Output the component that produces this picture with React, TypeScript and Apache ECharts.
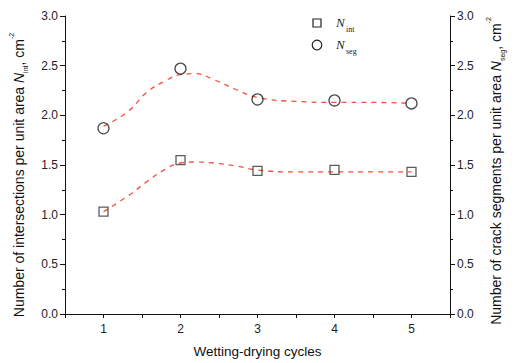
import React, { useEffect, useRef } from "react";
import * as echarts from "echarts";

const cycles = [1, 2, 3, 4, 5];
const nInt = [1.03, 1.55, 1.44, 1.45, 1.43];
const nSeg = [1.87, 2.47, 2.16, 2.15, 2.12];
const fitX = [1, 1.32, 1.56, 1.81, 2, 2.18, 2.43, 2.72, 3, 3.5, 4, 4.5, 5];
const fitInt = [1.03, 1.19, 1.33, 1.46, 1.52, 1.53, 1.52, 1.49, 1.45, 1.43, 1.43, 1.43, 1.43];
const fitSeg = [1.89, 2.04, 2.23, 2.35, 2.41, 2.42, 2.36, 2.26, 2.18, 2.14, 2.13, 2.13, 2.12];

const FONT = "Liberation Sans, Arial, sans-serif";
const SERIF = "Liberation Serif, Times New Roman, serif";

export default function App() {
  const ref = useRef<HTMLDivElement>(null);
  useEffect(() => {
    if (!ref.current) return;
    const chart = echarts.init(ref.current, undefined, { renderer: "svg" });
    const nameRich = {
      i: { fontFamily: FONT, fontStyle: "italic", fontSize: 14, color: "#111", lineHeight: 17 },
      sub: { fontFamily: FONT, fontSize: 7, color: "#111", verticalAlign: "bottom", lineHeight: 12 },
      sup: { fontFamily: FONT, fontSize: 7, color: "#111", verticalAlign: "top", lineHeight: 21 },
    };
    const axisCommon = {
      type: "value",
      min: 0,
      max: 3,
      interval: 0.5,
      axisLine: { show: true, lineStyle: { color: "#111", width: 1 } },
      axisTick: { show: true, inside: false, length: 5, lineStyle: { color: "#111" } },
      minorTick: { show: true, splitNumber: 2, length: 3, lineStyle: { color: "#111" } },
      splitLine: { show: false },
      axisLabel: { color: "#222", fontSize: 12, fontFamily: FONT, margin: 7, formatter: (v: number) => v.toFixed(1) },
      nameLocation: "middle",
      nameRotate: 90,
    };
    const fitStyle = { color: "#f5503a", width: 1.3, type: [5, 5] as any };
    chart.setOption({
      animation: false,
      backgroundColor: "#fff",
      grid: { left: 61, right: 49, top: 16, bottom: 47 },
      xAxis: {
        type: "value",
        min: 0.5,
        max: 5.5,
        interval: 0.5,
        axisLine: { show: true, lineStyle: { color: "#111" } },
        axisTick: { show: true, length: 4, lineStyle: { color: "#111" } },
        splitLine: { show: false },
        axisLabel: {
          color: "#222",
          fontSize: 12,
          fontFamily: FONT,
          margin: 9,
          formatter: (v: number) => (Math.abs(v - Math.round(v)) < 1e-6 && v >= 1 && v <= 5 ? String(Math.round(v)) : ""),
        },
        name: "Wetting-drying cycles",
        nameLocation: "middle",
        nameGap: 30,
        nameTextStyle: { fontFamily: FONT, fontSize: 13.5, color: "#111" },
      },
      yAxis: [
        {
          ...axisCommon,
          position: "left",
          name: "Number of intersections per unit area {i|N}{sub|int}, cm{sup|-2}",
          nameGap: 36,
          nameTextStyle: { fontFamily: FONT, fontSize: 14, color: "#111", rich: nameRich, padding: [0, 20, 0, 0] },
        },
        {
          ...axisCommon,
          position: "right",
          name: "Number of crack segments per unit area {i|N}{sub|seg}, cm{sup|-2}",
          nameGap: 35,
          nameTextStyle: { fontFamily: FONT, fontSize: 14, color: "#111", rich: nameRich, padding: [0, 12, 0, 0] },
        },
      ],
      series: [
        {
          type: "line",
          data: fitX.map((x, i) => [x, fitInt[i]]),
          smooth: true,
          showSymbol: false,
          lineStyle: fitStyle,
          z: 1,
        },
        {
          type: "line",
          data: fitX.map((x, i) => [x, fitSeg[i]]),
          smooth: true,
          showSymbol: false,
          lineStyle: fitStyle,
          z: 1,
        },
        {
          type: "scatter",
          data: cycles.map((x, i) => [x, nInt[i]]),
          symbol: "rect",
          symbolSize: 9,
          itemStyle: { color: "rgba(255,255,255,0)", borderColor: "#333", borderWidth: 1.3 },
          z: 3,
        },
        {
          type: "scatter",
          data: cycles.map((x, i) => [x, nSeg[i]]),
          symbol: "circle",
          symbolSize: 11,
          itemStyle: { color: "rgba(255,255,255,0)", borderColor: "#222", borderWidth: 1.3 },
          z: 3,
        },
      ],
      graphic: [
        { type: "rect", shape: { x: 313, y: 19, width: 8, height: 8 }, style: { fill: "none", stroke: "#222", lineWidth: 1.2 } },
        { type: "circle", shape: { cx: 317, cy: 45, r: 4.8 }, style: { fill: "none", stroke: "#222", lineWidth: 1.2 } },
        { type: "text", x: 336, y: 16, style: { text: "N", fontFamily: SERIF, fontStyle: "italic", fontSize: 13, fill: "#222" } },
        { type: "text", x: 346, y: 25, style: { text: "int", fontFamily: SERIF, fontSize: 8, fill: "#222" } },
        { type: "text", x: 336, y: 38, style: { text: "N", fontFamily: SERIF, fontStyle: "italic", fontSize: 13, fill: "#222" } },
        { type: "text", x: 346, y: 47, style: { text: "seg", fontFamily: SERIF, fontSize: 8, fill: "#222" } },
      ],
    });
    return () => chart.dispose();
  }, []);
  return <div ref={ref} style={{ width: 514, height: 363, position: "absolute", left: 0, top: 0 }} />;
}
